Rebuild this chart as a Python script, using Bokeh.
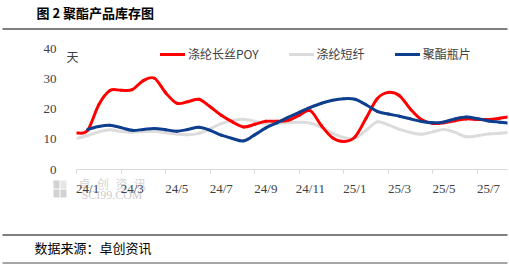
from bokeh.plotting import figure
from bokeh.models import (Range1d, FixedTicker, Label, Legend, LegendItem, BoxAnnotation, LinearAxis, Column)
from bokeh.embed import file_html
from bokeh.resources import INLINE

# x position in half-months from the start of Jan 2024
half_months = [0, 1, 2, 3, 4, 5, 6, 7, 8, 9, 10, 11, 12, 13, 14, 15, 16, 17, 18, 19,
               20, 21, 22, 23, 24, 25, 26, 27, 28, 29, 30, 31, 32, 33, 34, 35, 36, 37, 38, 38.7]

poy = [12.1, 13.0, 21.5, 26.2, 26.3, 26.5, 29.5, 30.3, 25.5, 22.0,
       22.5, 23.3, 20.8, 18.0, 15.8, 14.1, 15.0, 16.0, 16.0, 16.3,
       18.0, 19.5, 14.5, 10.5, 9.3, 10.8, 17.0, 23.5, 25.6, 24.5,
       20.0, 16.5, 15.3, 15.5, 16.2, 16.8, 16.6, 16.6, 17.0, 17.4]

psf = [10.3, 11.3, 12.5, 13.2, 12.6, 12.4, 12.6, 12.7, 12.2, 11.8,
       11.5, 12.0, 13.5, 15.2, 16.3, 16.7, 16.0, 15.2, 15.3, 15.6,
       15.7, 15.4, 14.0, 12.0, 10.6, 10.4, 13.0, 15.8, 14.8, 13.3,
       12.3, 11.7, 12.5, 13.3, 12.3, 10.9, 11.2, 11.8, 12.0, 12.2]

chip = [float("nan"), 13.3, 14.3, 14.7, 13.9, 13.0, 13.3, 13.6, 13.2, 12.7,
        13.3, 14.0, 13.0, 11.4, 10.3, 9.5, 11.5, 13.8, 15.5, 17.3,
        19.0, 20.6, 22.0, 23.0, 23.5, 23.3, 21.5, 19.3, 18.4, 17.7,
        16.8, 15.9, 15.5, 15.8, 16.8, 17.4, 16.9, 16.1, 15.7, 15.4]

series_names = ["涤纶长丝POY", "涤纶短纤", "聚酯瓶片"]
tick_labels = ["24/1", "24/3", "24/5", "24/7", "24/9", "24/11", "25/1", "25/3", "25/5", "25/7"]
y_ticks = [0, 10, 20, 30, 40]
unit_label = "天"
title_text = "图 2 聚酯产品库存图"
source_text = "数据来源：卓创资讯"
wm_chars = ["卓", "创", "资", "讯"]
wm_site = "SCI99.COM"

RED = "#FF0000"
GREY = "#DCDCDC"
BLUE = "#0E3F8F"
TXT = "#404040"
CJK = "Noto Sans CJK SC"
SERIF = "Liberation Serif"


def smooth_segments(xs, ys):
    """Cubic Bezier segments through the data points (Excel-style smoothed line)."""
    pts = [(x, y) for x, y in zip(xs, ys) if y == y]
    n = len(pts)
    seg = dict(x0=[], y0=[], x1=[], y1=[], cx0=[], cy0=[], cx1=[], cy1=[])
    for i in range(n - 1):
        pm, p0, p1, p2 = pts[max(i - 1, 0)], pts[i], pts[i + 1], pts[min(i + 2, n - 1)]
        seg["x0"].append(p0[0]); seg["y0"].append(p0[1])
        seg["x1"].append(p1[0]); seg["y1"].append(p1[1])
        seg["cx0"].append(p0[0] + (p1[0] - pm[0]) / 6); seg["cy0"].append(p0[1] + (p1[1] - pm[1]) / 6)
        seg["cx1"].append(p1[0] - (p2[0] - p0[0]) / 6); seg["cy1"].append(p1[1] - (p2[1] - p0[1]) / 6)
    return seg


# ---------------- background sheet: title, rules, source, watermark ----------------
bg = figure(width=509, height=264, output_backend="svg", toolbar_location=None,
            x_range=Range1d(0, 509), y_range=Range1d(264, 0),
            x_axis_location=None, y_axis_location=None, min_border=0)
bg.outline_line_color = None
bg.grid.visible = False

bg.add_layout(Label(x=36, y=12, text=title_text, text_font=CJK, text_font_style="bold",
                    text_font_size="13px", text_baseline="middle", text_color="black"))
bg.add_layout(Label(x=34, y=247, text=source_text, text_font=CJK,
                    text_font_size="13px", text_baseline="middle", text_color="black"))
for (t, b, c) in [(27.5, 29.5, "#7F7F7F"), (233.5, 235.5, "#7F7F7F"), (261.5, 263.5, "#A6A6A6")]:
    bg.add_layout(BoxAnnotation(left=2, right=507, top=t, bottom=b,
                                fill_color=c, fill_alpha=1, line_color=None))
for (l, t, c) in [(53, 180, "#D2D2D2"), (60, 180, "#E6E6E6"), (53, 189, "#D2D2D2"), (60, 189, "#D2D2D2")]:
    bg.add_layout(BoxAnnotation(left=l, right=l + 6, top=t, bottom=t + 8,
                                fill_color=c, fill_alpha=1, line_color=None))
for i, ch in enumerate(wm_chars):
    bg.add_layout(Label(x=78 + 18.5 * i, y=183, text=ch, text_font=CJK, text_font_size="12px",
                        text_baseline="middle", text_color="#D4D4D4"))
bg.add_layout(Label(x=81, y=194, text=wm_site, text_font=SERIF, text_font_size="12px",
                    text_baseline="middle", text_color="#CDCDCD"))

# ---------------- chart ----------------
p = figure(width=509, height=264, output_backend="svg", toolbar_location=None,
           x_range=Range1d(0, 38.7), y_range=Range1d(0, 42.82), y_axis_location=None,
           min_border_left=76, min_border_right=2, min_border_top=40, min_border_bottom=95)
p.outline_line_color = None
p.grid.visible = False
p.background_fill_alpha = 0
p.border_fill_alpha = 0

r_psf = p.bezier(**smooth_segments(half_months, psf), line_color=GREY, line_width=3, line_cap="round")
r_poy = p.bezier(**smooth_segments(half_months, poy), line_color=RED, line_width=3, line_cap="round")
r_chip = p.bezier(**smooth_segments(half_months, chip), line_color=BLUE, line_width=3, line_cap="round")

tick_pos = [4 * i for i in range(len(tick_labels))]
label_pos = [4 * i + 1 for i in range(len(tick_labels))]
xa = p.xaxis[0]
xa.ticker = FixedTicker(ticks=label_pos, minor_ticks=tick_pos)
xa.major_label_overrides = {lp: t for lp, t in zip(label_pos, tick_labels)}
xa.axis_line_color = "#D9D9D9"
xa.major_tick_line_color = None
xa.major_tick_out = 0
xa.major_tick_in = 0
xa.minor_tick_line_color = "#D9D9D9"
xa.minor_tick_out = 4
xa.minor_tick_in = 0
xa.major_label_standoff = 7
xa.major_label_text_font = SERIF
xa.major_label_text_font_size = "13px"
xa.major_label_text_color = TXT

# unit label axis (inner) then value axis (outer)
ya_unit = LinearAxis(ticker=FixedTicker(ticks=[37.5], minor_ticks=[]),
                     major_label_overrides={37.5: unit_label},
                     axis_line_color=None, major_tick_line_color=None, minor_tick_line_color=None,
                     major_tick_out=0, major_tick_in=0, major_label_standoff=-2,
                     major_label_text_font=CJK, major_label_text_font_size="12px",
                     major_label_text_color=TXT)
p.add_layout(ya_unit, "left")
ya = LinearAxis(ticker=FixedTicker(ticks=y_ticks, minor_ticks=[]),
                axis_line_color=None, major_tick_line_color=None, minor_tick_line_color=None,
                major_tick_out=0, major_tick_in=0, major_label_standoff=7,
                major_label_text_font=SERIF, major_label_text_font_size="13px",
                major_label_text_color=TXT)
p.add_layout(ya, "left")

legend = Legend(items=[LegendItem(label=series_names[0], renderers=[r_poy]),
                       LegendItem(label=series_names[1], renderers=[r_psf]),
                       LegendItem(label=series_names[2], renderers=[r_chip])],
                orientation="horizontal", location=(84, 107),
                glyph_width=25, glyph_height=14, label_height=14, label_standoff=3,
                spacing=30, padding=0, margin=0, border_line_color=None,
                background_fill_alpha=0,
                label_text_font=CJK, label_text_font_size="12px",
                label_text_color=TXT)
p.add_layout(legend)

layout = Column(children=[Column(children=[bg]),
                          Column(children=[p], margin=(-264, 0, 0, 0))], spacing=0)
open("out.html", "w").write(file_html(layout, INLINE))
